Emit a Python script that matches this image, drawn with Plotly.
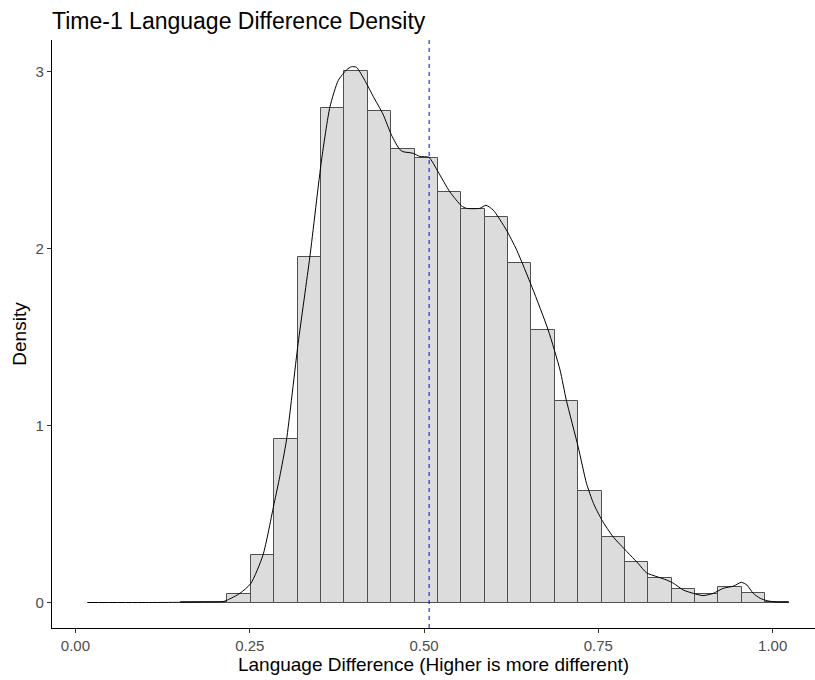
import plotly.graph_objects as go

# ---- data ----
bin_start = 0.0169
bin_width = 0.03353
bin_heights = [0, 0, 0, 0, 0.003, 0.004, 0.047, 0.268, 0.923, 1.952,
               2.795, 3.003, 2.775, 2.56, 2.51, 2.32, 2.225, 2.18, 1.92, 1.54,
               1.139, 0.632, 0.372, 0.23, 0.136, 0.074, 0.046, 0.089, 0.056, 0.003]

dens_x = [0.017, 0.10, 0.15, 0.19, 0.2117, 0.218, 0.236, 0.2516, 0.269, 0.285, 0.293,
          0.3027, 0.3194, 0.3362, 0.353, 0.365, 0.377, 0.389, 0.396, 0.403, 0.415,
          0.427, 0.441, 0.4534, 0.465, 0.47, 0.4844, 0.494, 0.507, 0.520, 0.537,
          0.554, 0.561, 0.580, 0.5887, 0.599, 0.618, 0.633, 0.655, 0.678, 0.695,
          0.704, 0.721, 0.733, 0.743, 0.755, 0.771, 0.791, 0.807, 0.819, 0.834,
          0.848, 0.858, 0.872, 0.886, 0.900, 0.915, 0.929, 0.944, 0.955, 0.963,
          0.972, 0.982, 0.992, 1.005, 1.023]
dens_y = [0.0, 0.0, 0.001, 0.003, 0.005, 0.014, 0.052, 0.108, 0.268, 0.56, 0.71,
          0.918, 1.464, 1.952, 2.5, 2.80, 2.95, 3.01, 3.027, 3.024, 2.95,
          2.86, 2.76, 2.64, 2.56, 2.547, 2.538, 2.52, 2.515, 2.434, 2.32,
          2.24, 2.227, 2.227, 2.244, 2.218, 2.105, 1.99, 1.78, 1.54, 1.314,
          1.144, 0.88, 0.673, 0.56, 0.466, 0.372, 0.287, 0.221, 0.168, 0.146,
          0.127, 0.108, 0.07, 0.052, 0.039, 0.052, 0.08, 0.093, 0.114, 0.099,
          0.052, 0.024, 0.01, 0.003, 0.002]

mean_value = 0.5073

x_ticks = [0.0, 0.25, 0.5, 0.75, 1.0]
x_tick_labels = ["0.00", "0.25", "0.50", "0.75", "1.00"]
y_ticks = [0, 1, 2, 3]
y_tick_labels = ["0", "1", "2", "3"]

title = "Time-1 Language Difference Density"
x_title = "Language Difference (Higher is more different)"
y_title = "Density"

# ---- figure ----
centers = [bin_start + bin_width * (i + 0.5) for i in range(len(bin_heights))]
keep = [i for i, h in enumerate(bin_heights) if h > 0]

fig = go.Figure()
fig.add_trace(go.Bar(
    x=[centers[i] for i in keep],
    y=[bin_heights[i] for i in keep],
    width=bin_width,
    marker=dict(color="#DCDCDC", line=dict(color="#505050", width=1)),
    hoverinfo="skip",
    showlegend=False,
))
fig.add_trace(go.Scatter(
    x=dens_x, y=dens_y, mode="lines",
    line=dict(color="black", width=1, shape="spline", smoothing=0.6),
    showlegend=False,
))
fig.add_vline(x=mean_value, line=dict(color="#0000FF", width=1, dash="4px,4px"))

font = "Liberation Sans, Arial, sans-serif"
fig.update_layout(
    width=815, height=680,
    margin=dict(l=52, r=0, t=40, b=52),
    paper_bgcolor="white", plot_bgcolor="white",
    bargap=0,
    font=dict(family=font),
    title=dict(text=title, x=0.0, xref="paper", xanchor="left",
               y=1 - 21 / 680, yanchor="middle", yref="container",
               font=dict(size=23, color="black", family=font)),
)
fig.update_xaxes(
    range=[-0.0336, 1.0607],
    tickvals=x_ticks, ticktext=x_tick_labels,
    showgrid=False, zeroline=False,
    showline=True, linecolor="black", linewidth=1.2,
    ticks="outside", ticklen=4, tickcolor="#333333", tickwidth=1,
    tickfont=dict(size=15, color="#4D4D4D"),
    title=dict(text=x_title, font=dict(size=19, color="black"), standoff=2),
)
fig.update_yaxes(
    range=[-0.144, 3.178],
    tickvals=y_ticks, ticktext=y_tick_labels,
    showgrid=False, zeroline=False,
    showline=True, linecolor="black", linewidth=1.2,
    ticks="outside", ticklen=4, tickcolor="#333333", tickwidth=1,
    tickfont=dict(size=15, color="#4D4D4D"),
    title=dict(text=y_title, font=dict(size=19, color="black"), standoff=3),
)

fig.write_html("out.html")
